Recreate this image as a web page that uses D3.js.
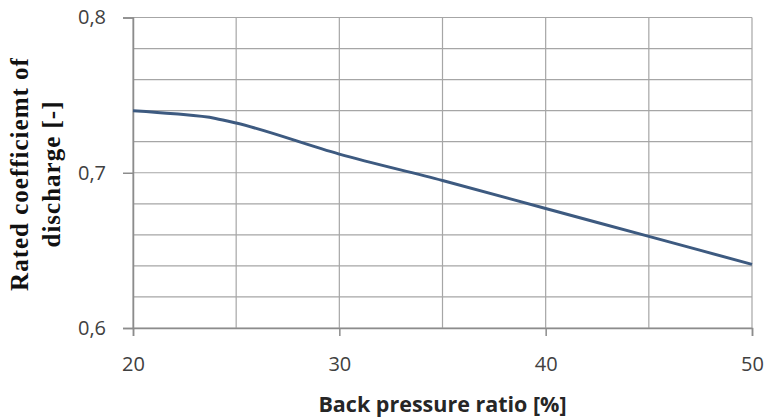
<!DOCTYPE html>
<html>
<head>
<meta charset="utf-8">
<script src="https://cdn.jsdelivr.net/npm/d3@7"></script>
<style>
  body { margin: 0; background: #fff; }
  svg { display: block; }
</style>
</head>
<body>
<div id="chart"></div>
<script>
// back pressure ratio [%]
var pressure = [20, 22, 24, 25, 30, 35, 40, 45, 50];
// rated coefficient of discharge
var discharge = [0.740, 0.738, 0.735, 0.732, 0.712, 0.695, 0.677, 0.659, 0.641];
var xLabels = [20, 30, 40, 50];
var yLabels = [0.6, 0.7, 0.8];

var width = 771, height = 420;
var margin = { top: 17.5, right: 19, bottom: 92, left: 133 };

var svg = d3.select("#chart").append("svg")
  .attr("width", width)
  .attr("height", height);

var x = d3.scaleLinear().domain([20, 50]).range([margin.left, width - margin.right]);
var y = d3.scaleLinear().domain([0.6, 0.8]).range([height - margin.bottom, margin.top]);

var comma = function (d) { return d3.format(".1f")(d).replace(".", ","); };

// grid
var grid = svg.append("g").attr("stroke", "#a6a6a6").attr("stroke-width", 1.2);
grid.selectAll(".h")
  .data(d3.range(0.6, 0.8001, 0.02))
  .join("line")
  .attr("x1", x(20)).attr("x2", x(50))
  .attr("y1", d => y(d)).attr("y2", d => y(d));
grid.selectAll(".v")
  .data(d3.range(20, 50.01, 5))
  .join("line")
  .attr("y1", y(0.6)).attr("y2", y(0.8))
  .attr("x1", d => x(d)).attr("x2", d => x(d));

// axes
var xAxis = svg.append("g")
  .attr("transform", `translate(0,${y(0.6)})`)
  .call(d3.axisBottom(x).tickValues(xLabels).tickSize(8).tickPadding(21).tickFormat(d3.format("d")));
var yAxis = svg.append("g")
  .attr("transform", `translate(${x(20)},0)`)
  .call(d3.axisLeft(y).tickValues(yLabels).tickSize(10).tickPadding(17).tickFormat(comma));

[xAxis, yAxis].forEach(function (a) {
  a.select(".domain").attr("stroke", "#8c8c8c").attr("stroke-width", 1.5);
  a.selectAll(".tick line").attr("stroke", "#8c8c8c").attr("stroke-width", 1.5);
  a.selectAll("text")
    .attr("fill", "#404040")
    .attr("font-family", "Open Sans, sans-serif")
    .attr("font-size", 20);
});

// curve
var line = d3.line()
  .x((d, i) => x(pressure[i]))
  .y(d => y(d))
  .curve(d3.curveMonotoneX);

svg.append("path")
  .datum(discharge)
  .attr("fill", "none")
  .attr("stroke", "#3d5a80")
  .attr("stroke-width", 3)
  .attr("d", line);

// titles
svg.append("text")
  .attr("x", (x(20) + x(50)) / 2)
  .attr("y", 412)
  .attr("text-anchor", "middle")
  .attr("font-family", "Open Sans, sans-serif")
  .attr("font-weight", "bold")
  .attr("font-size", 21.5)
  .attr("fill", "#262626")
  .text("Back pressure ratio [%]");

var yt = svg.append("text")
  .attr("transform", "translate(0,174) rotate(-90)")
  .attr("text-anchor", "middle")
  .attr("font-family", "Liberation Serif, serif")
  .attr("font-weight", "bold")
  .attr("font-size", 25)
  .attr("letter-spacing", 1)
  .attr("fill", "#111");
yt.append("tspan").attr("x", 0).attr("y", 28).text("Rated coefficiemt of");
yt.append("tspan").attr("x", 0).attr("y", 60).text("discharge [-]");
</script>
</body>
</html>
